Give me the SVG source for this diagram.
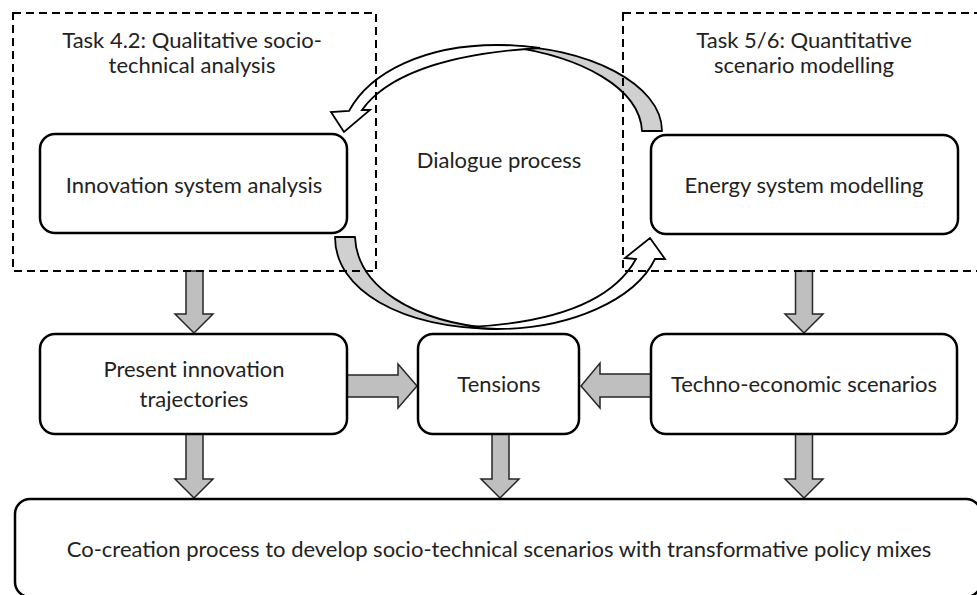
<svg xmlns="http://www.w3.org/2000/svg" width="977" height="595" viewBox="0 0 977 595">
<style>
text{font-family:Lato,"Open Sans","Liberation Sans",sans-serif;font-size:22px;fill:#222;text-anchor:middle}
.node{fill:#fff;stroke:#000;stroke-width:2.5}
.dash{fill:none;stroke:#000;stroke-width:2;stroke-dasharray:8 5}
.blk{fill:#bfbfbf;stroke:#262626;stroke-width:1.5;stroke-linejoin:miter}
.crv{fill:#d0d0d0;stroke:#000;stroke-width:1.8;stroke-linejoin:round}
.crw{fill:#fff;stroke:#000;stroke-width:1.8;stroke-linejoin:miter}
</style>
<rect width="977" height="595" fill="#fff"/>
<g id="connectors">
<path class="blk" d="M186,271 H203 V314 H213 L194,333 L175,314 H186 Z"/>
<path class="blk" d="M795.5,271 H812.5 V314 H823 L804,333 L785,314 H795.5 Z"/>
<path class="blk" d="M186,434 H203 V479 H213 L194,498 L175,479 H186 Z"/>
<path class="blk" d="M492,434 H509 V479 H519 L500,498 L481,479 H492 Z"/>
<path class="blk" d="M795.5,434 H812.5 V479 H823 L804,498 L785,479 H795.5 Z"/>
<path class="blk" d="M347,375 H398 V364 L417,386 L398,408 V397 H347 Z"/>
<path class="blk" d="M651,374 H600 V363 L581,386 L600,408 V397 H651 Z"/>
<path class="crv" d="M662,131 C662,85 590,46 497,45 C585,55 640,90 642,131 Z"/>
<path class="crw" d="M497,45 C425,45 370,72 349,111 L331,112 L344,132 L370,110 L362,110 C385,78 440,54 540,48 C525,46 510,45 497,45 Z"/>
<path class="crv" d="M335,237 H355 C357,285 410,322 497,329 C400,328 335,290 335,237 Z"/>
<path class="crw" d="M497,329 C570,329 635,300 655,259 L665,259 L650,238 L625,258 L636,259 C615,297 565,322 470,327 C480,328 490,329 497,329 Z"/>
</g>
<g id="task42">
<rect class="dash" x="13" y="13" width="363" height="258"/>
<text x="192" y="48">Task 4.2: Qualitative socio-</text>
<text x="192" y="73">technical analysis</text>
</g>
<g id="task56">
<rect class="dash" x="623" y="13" width="370" height="258"/>
<text x="804" y="48">Task 5/6: Quantitative</text>
<text x="804" y="73">scenario modelling</text>
</g>
<g id="dialogue">
<text x="499" y="168">Dialogue process</text>
</g>
<g id="innovation">
<rect class="node" x="40" y="134" width="307" height="99" rx="15"/>
<text x="194" y="193">Innovation system analysis</text>
</g>
<g id="energy">
<rect class="node" x="651" y="135" width="307" height="99" rx="15"/>
<text x="804" y="193">Energy system modelling</text>
</g>
<g id="present">
<rect class="node" x="40" y="334" width="307" height="100" rx="15"/>
<text x="194" y="377">Present innovation</text>
<text x="194" y="407">trajectories</text>
</g>
<g id="tensions">
<rect class="node" x="418" y="334" width="161" height="100" rx="15"/>
<text x="499" y="392">Tensions</text>
</g>
<g id="techno">
<rect class="node" x="651" y="334" width="306" height="100" rx="15"/>
<text x="804" y="392">Techno-economic scenarios</text>
</g>
<g id="cocreation">
<rect class="node" x="15" y="499" width="966" height="98" rx="15"/>
<text x="499" y="557">Co-creation process to develop socio-technical scenarios with transformative policy mixes</text>
</g>
</svg>
